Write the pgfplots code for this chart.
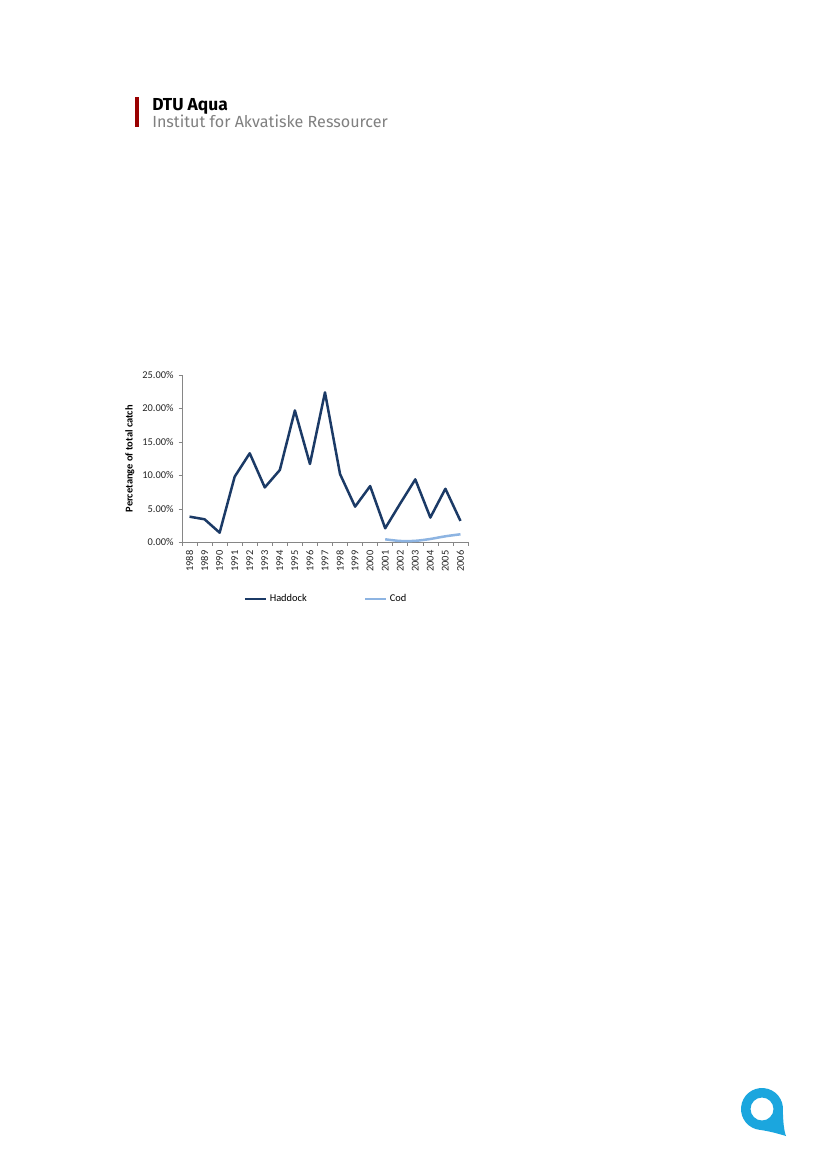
\documentclass[border=0pt]{standalone}
\usepackage{fontspec}
\setmainfont{Carlito}
\newfontfamily\headfont{Fira Sans}
\usepackage{pgfplots}
\pgfplotsset{compat=1.18}
\definecolor{haddock}{HTML}{1B3A66}
\definecolor{cod}{HTML}{8DB4E2}
\definecolor{dtured}{HTML}{990000}
\definecolor{logoblue}{HTML}{1BA6DE}
\definecolor{axgray}{HTML}{868686}
\begin{document}
\begin{tikzpicture}[x=0.72pt,y=-0.72pt]
\path[use as bounding box, fill=white] (0,0) rectangle (827,1169);
% header
\fill[dtured] (135,97) rectangle (139,127);
\node[anchor=base west, inner sep=0, font=\headfont\bfseries\fontsize{12.5}{13}\selectfont] at (152,110) {DTU Aqua};
\node[anchor=base west, inner sep=0, text=gray, font=\headfont\fontsize{11.6}{12}\selectfont] at (152,127) {Institut for Akvatiske Ressourcer};
% chart
\begin{axis}[
  at={(131.04pt,-390.46pt)}, anchor=south west,
  scale only axis, width=205.9pt, height=120.5pt,
  xmin=-0.5, xmax=18.5, ymin=0, ymax=25,
  axis lines*=left, axis line style={draw=axgray, -},
  xtick={0,...,18},
  xticklabels={1988,1989,1990,1991,1992,1993,1994,1995,1996,1997,1998,1999,2000,2001,2002,2003,2004,2005,2006},
  minor xtick={-0.5,0.5,...,18.5},
  ytick={0,5,10,15,20,25},
  yticklabel={\pgfmathprintnumber[fixed,fixed zerofill,precision=2]{\tick}\%},
  /pgf/number format/assume math mode=true,
  tick align=outside,
  major tick length=2.5pt, minor tick length=2.5pt,
  x tick style={draw=none}, minor x tick style={draw=axgray, thin},
  y tick style={draw=axgray, thin},
  ticklabel style={font=\fontsize{7.5}{8}\selectfont, text=black!85},
  x tick label style={rotate=90, anchor=east},
  ylabel={Percetange of total catch},
  ylabel style={font=\bfseries\fontsize{7.5}{8}\selectfont, at={(axis description cs:-0.182,0.5)}, anchor=center},
  legend style={at={(0.505,-0.339)}, anchor=center, draw=none, font=\fontsize{7.5}{8}\selectfont,
    /tikz/every even column/.append style={column sep=39pt}},
  legend columns=2,
  legend image code/.code={\draw[#1] (0pt,0pt) -- (15pt,0pt);},
]
\addplot[haddock, line width=1.8pt, line join=round] coordinates {
(0,3.83) (1,3.44) (2,1.44) (3,9.81) (4,13.3) (5,8.2) (6,10.8) (7,19.7) (8,11.7) (9,22.4)
(10,10.2) (11,5.33) (12,8.4) (13,2.1) (14,5.8) (15,9.4) (16,3.7) (17,8.0) (18,3.2)};
\addlegendentry{Haddock}
\addplot[cod, line width=1.8pt, smooth] coordinates {
(13,0.45) (14,0.2) (15,0.22) (16,0.5) (17,0.9) (18,1.2)};
\addlegendentry{Cod}
\end{axis}
% logo
\begin{scope}[shift={(762,1109)}, x=0.72pt, y=0.72pt]
\fill[logoblue, even odd rule]
  (-95:21) arc[start angle=-95, end angle=-365, radius=21]
  .. controls (21,-12) and (22,-22) .. (24,-27)
  .. controls (14,-24) and (6,-22) .. cycle
  (0,0) circle[radius=11.5];
\end{scope}
\end{tikzpicture}
\end{document}
